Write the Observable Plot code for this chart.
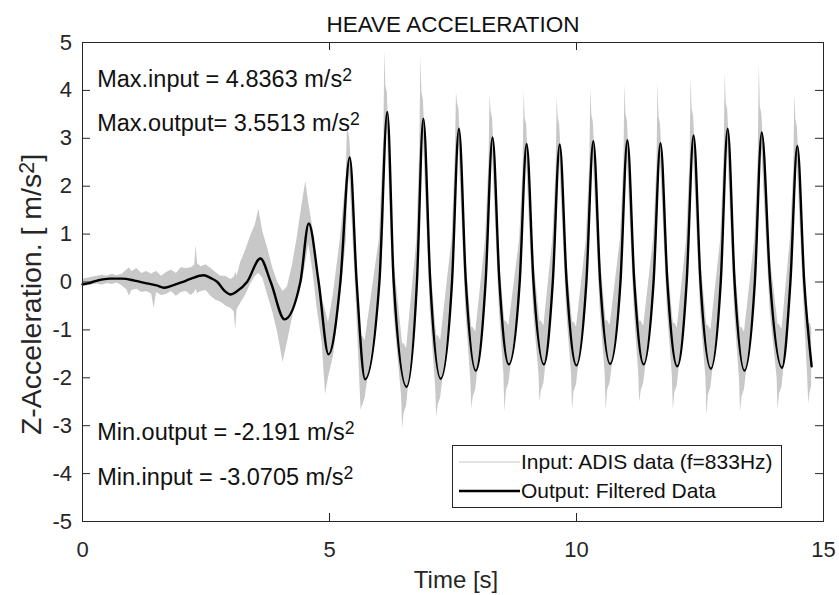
<!DOCTYPE html>
<html>
<head>
<meta charset="utf-8">
<script src="https://cdn.jsdelivr.net/npm/d3@7"></script>
<script src="https://cdn.jsdelivr.net/npm/@observablehq/plot@0.6"></script>
<style>
  html, body { margin: 0; padding: 0; background: #fff; }
  svg { display: block; }
</style>
</head>
<body>
<div id="chart"></div>
<script>
// ---------- data ----------
// Filtered output (key points: extrema and zero crossings), time in s, value in m/s^2
const outT = [0.00,0.10,0.30,0.55,0.80,1.05,1.30,1.50,1.65,1.80,2.00,2.20,2.45,2.60,2.73,2.87,3.00,3.12,3.33,3.60,3.81,4.09,4.41,4.58,4.78,4.98,
  5.22,5.41,5.55,5.72, 6.01,6.17,6.30,6.56, 6.77,6.90,7.04,7.25, 7.48,7.62,7.76,7.96, 8.16,8.30,8.44,8.63,
  8.85,8.99,9.13,9.34, 9.52,9.66,9.80,10.00, 10.20,10.34,10.48,10.68, 10.89,11.03,11.17,11.36,
  11.56,11.70,11.84,12.04, 12.23,12.37,12.51,12.72, 12.92,13.06,13.20,13.40, 13.61,13.75,13.92,14.16,
  14.33,14.47,14.61,14.76];
const outV = [-0.05,-0.03,0.03,0.07,0.07,0.03,-0.03,-0.07,-0.12,-0.08,-0.01,0.07,0.14,0.08,0.00,-0.18,-0.26,-0.20,0.00,0.49,0.00,-0.78,0.00,1.22,0.00,-1.51,
  0.00,2.60,0.00,-2.03, 0.00,3.55,0.00,-2.19, 0.00,3.41,0.00,-2.02, 0.00,3.20,0.00,-1.85, 0.00,3.02,0.00,-1.72,
  0.00,2.88,0.00,-1.72, 0.00,2.87,0.00,-1.74, 0.00,2.94,0.00,-1.71, 0.00,2.96,0.00,-1.72,
  0.00,2.90,0.00,-1.76, 0.00,3.06,0.00,-1.81, 0.00,3.20,0.00,-1.85, 0.00,3.12,0.00,-1.79,
  0.00,2.84,0.00,-1.76];

// Raw input (833 Hz) drawn as its visible envelope: time, lower edge, upper edge
const inT = [0.00,0.10,0.20,0.30,0.40,0.50,0.60,0.70,0.80,0.90,0.95,1.00,1.10,1.20,1.30,1.40,1.45,1.50,1.60,1.70,1.80,1.90,
  2.00,2.10,2.20,2.27,2.30,2.33,2.40,2.50,2.60,2.70,2.80,2.90,3.00,3.07,3.10,3.13,3.20,3.30,3.40,3.50,3.57,3.65,3.75,3.85,3.95,
  4.06,4.15,4.25,4.35,4.45,4.52,4.58,4.66,4.75,4.85,4.92,4.98,5.08,
  5.22,5.34,5.36,5.38,5.41,5.55,5.62,5.64,5.67,5.72,
  6.01,6.10,6.12,6.14,6.17,6.30,6.46,6.48,6.51,6.56,
  6.77,6.83,6.85,6.87,6.90,7.04,7.15,7.17,7.20,7.25,
  7.48,7.55,7.57,7.59,7.62,7.76,7.86,7.88,7.91,7.96,
  8.16,8.23,8.25,8.27,8.30,8.44,8.53,8.55,8.58,8.63,
  8.85,8.92,8.94,8.96,8.99,9.13,9.24,9.26,9.29,9.34,
  9.52,9.59,9.61,9.63,9.66,9.80,9.90,9.92,9.95,10.00,
  10.20,10.27,10.29,10.31,10.34,10.48,10.58,10.60,10.63,10.68,
  10.89,10.96,10.98,11.00,11.03,11.17,11.26,11.28,11.31,11.36,
  11.56,11.63,11.65,11.67,11.70,11.84,11.94,11.96,11.99,12.04,
  12.23,12.30,12.32,12.34,12.37,12.51,12.62,12.64,12.67,12.72,
  12.92,12.99,13.01,13.03,13.06,13.20,13.30,13.32,13.35,13.40,
  13.61,13.68,13.70,13.72,13.75,13.92,14.06,14.08,14.11,14.16,
  14.33,14.40,14.42,14.44,14.47,14.61,14.68,14.70,14.73,14.76];
const inLo = [-0.10,-0.08,-0.06,-0.04,-0.07,-0.03,-0.05,-0.02,-0.08,-0.16,-0.30,-0.18,-0.15,-0.22,-0.20,-0.25,-0.55,-0.22,-0.28,-0.26,-0.20,-0.30,
  -0.22,-0.20,-0.28,-0.22,-0.15,-0.24,-0.20,-0.18,-0.30,-0.38,-0.42,-0.50,-0.55,-0.62,-1.00,-0.58,-0.45,-0.28,-0.05,0.12,0.18,0.08,-0.28,-0.62,-1.05,
  -1.68,-1.25,-0.75,-0.25,0.00,0.40,0.80,0.25,-0.55,-1.25,-2.35,-2.00,-1.55,
  -0.35,0.86,1.50,2.00,2.25,-0.60,-2.23,-2.68,-2.58,-2.43,
  -0.35,1.17,2.45,2.95,3.20,-0.60,-2.39,-3.07,-2.74,-2.59,
  -0.35,1.13,2.31,2.81,3.06,-0.60,-2.22,-2.83,-2.57,-2.42,
  -0.35,1.06,2.10,2.60,2.85,-0.60,-2.05,-2.64,-2.40,-2.25,
  -0.35,1.00,1.92,2.42,2.67,-0.60,-1.92,-2.72,-2.27,-2.12,
  -0.35,0.95,1.78,2.28,2.53,-0.60,-1.92,-2.51,-2.27,-2.12,
  -0.35,0.95,1.77,2.27,2.52,-0.60,-1.94,-2.68,-2.29,-2.14,
  -0.35,0.97,1.84,2.34,2.59,-0.60,-1.91,-2.68,-2.26,-2.11,
  -0.35,0.98,1.86,2.36,2.61,-0.60,-1.92,-2.51,-2.27,-2.12,
  -0.35,0.96,1.80,2.30,2.55,-0.60,-1.96,-2.68,-2.31,-2.16,
  -0.35,1.01,1.96,2.46,2.71,-0.60,-2.01,-2.79,-2.36,-2.21,
  -0.35,1.06,2.10,2.60,2.85,-0.60,-2.05,-2.72,-2.40,-2.25,
  -0.35,1.03,2.02,2.52,2.77,-0.60,-1.99,-2.68,-2.34,-2.19,
  -0.35,0.94,1.74,2.24,2.49,-0.60,-2.00,-2.54,-2.30,-2.16];
const inHi = [0.06,0.08,0.10,0.12,0.14,0.12,0.16,0.13,0.16,0.25,0.30,0.22,0.28,0.18,0.22,0.16,0.20,0.22,0.12,0.20,0.25,0.18,
  0.30,0.28,0.30,0.35,0.76,0.38,0.32,0.36,0.28,0.20,0.12,0.12,0.05,0.10,0.20,0.12,0.40,0.65,0.95,1.20,1.52,1.05,0.70,0.30,0.00,
  -0.20,-0.10,0.35,0.95,1.65,2.10,1.65,1.15,0.35,-0.35,-0.60,-0.85,-0.25,
  0.90,2.21,3.16,3.15,3.00,0.50,-0.93,-1.13,-1.13,-1.23,
  0.90,3.02,4.84,4.10,3.95,0.50,-1.09,-1.29,-1.29,-1.39,
  0.90,2.90,4.73,3.96,3.81,0.50,-0.92,-1.12,-1.12,-1.22,
  0.90,2.72,3.96,3.75,3.60,0.50,-0.75,-0.95,-0.95,-1.05,
  0.90,2.57,3.91,3.57,3.42,0.50,-0.62,-0.82,-0.82,-0.92,
  0.90,2.45,4.00,3.43,3.28,0.50,-0.62,-0.82,-0.82,-0.92,
  0.90,2.44,3.87,3.42,3.27,0.50,-0.64,-0.84,-0.84,-0.94,
  0.90,2.50,4.06,3.49,3.34,0.50,-0.61,-0.81,-0.81,-0.91,
  0.90,2.52,4.14,3.51,3.36,0.50,-0.62,-0.82,-0.82,-0.92,
  0.90,2.47,4.17,3.45,3.30,0.50,-0.66,-0.86,-0.86,-0.96,
  0.90,2.60,4.27,3.61,3.46,0.50,-0.71,-0.91,-0.91,-1.01,
  0.90,2.72,4.37,3.75,3.60,0.50,-0.75,-0.95,-0.95,-1.05,
  0.90,2.65,4.55,3.67,3.52,0.50,-0.69,-0.89,-0.89,-0.99,
  0.90,2.41,3.94,3.39,3.24,0.50,-0.70,-0.90,-0.86,-0.96];

const xTicks = [0, 5, 10, 15];
const yTicks = [-5, -4, -3, -2, -1, 0, 1, 2, 3, 4, 5];
const titleText = "HEAVE ACCELERATION";
const xLabel = "Time [s]";
const yLabel = "Z-Acceleration. [ m/s²]";
const statLabels = ["Max.input = ", "Max.output= ", "Min.output = ", "Min.input = "];
const statValues = ["4.8363", "3.5513", "-2.191", "-3.0705"];
const statUnit = " m/s²";
const legendLabels = ["Input: ADIS data (f=833Hz)", "Output: Filtered Data"];

// ---------- tables built from the arrays ----------
const output = outT.map((t, i) => ({t, v: outV[i]}));
const input = inT.map((t, i) => ({t, lo: inLo[i], hi: inHi[i]}));
const stats = statLabels.map((s, i) => s + statValues[i] + statUnit);

// ---------- layout (pixels) ----------
const W = 839, H = 595;
const mL = 82, mR = 16, mT = 42, mB = 74;
const fw = W - mL - mR, fh = H - mT - mB;
const tick = 8;
const axisCol = "#262626";
const inputCol = "#c8c8c8";
const statDy = [37, 81, 389.7, 434.7];
const font = "'Liberation Sans', Arial, sans-serif";

const svg = Plot.plot({
  width: W, height: H,
  marginLeft: mL, marginRight: mR, marginTop: mT, marginBottom: mB,
  style: {fontFamily: font, color: axisCol, background: "#fff"},
  x: {domain: [0, 15], axis: null},
  y: {domain: [-5, 5], axis: null},
  marks: [
    Plot.areaY(input, {x: "t", y1: "lo", y2: "hi", fill: inputCol, curve: "linear"}),
    Plot.line(output, {x: "t", y: "v", stroke: "#000", strokeWidth: 2.4, curve: "monotone-x"}),
    Plot.frame({stroke: axisCol, strokeWidth: 1}),
    Plot.ruleX(xTicks, {x: d => d, stroke: axisCol, insetTop: fh - tick}),
    Plot.ruleX(xTicks, {x: d => d, stroke: axisCol, insetBottom: fh - tick}),
    Plot.ruleY(yTicks, {y: d => d, stroke: axisCol, insetRight: fw - tick}),
    Plot.ruleY(yTicks, {y: d => d, stroke: axisCol, insetLeft: fw - tick}),
    Plot.text(xTicks, {x: d => d, frameAnchor: "bottom", lineAnchor: "middle", dy: 28.5, text: d => String(d), fontSize: 22, fill: axisCol}),
    Plot.text(yTicks, {y: d => d, frameAnchor: "left", lineAnchor: "middle", dx: -10.5, textAnchor: "end", text: d => String(d), fontSize: 22, fill: axisCol}),
    Plot.text([titleText], {frameAnchor: "top", lineAnchor: "middle", textAnchor: "middle", dy: -17.5, text: d => d, fontSize: 22.5, fill: "#111"}),
    Plot.text([xLabel], {frameAnchor: "bottom", lineAnchor: "middle", textAnchor: "middle", dx: 3, dy: 58.5, text: d => d, fontSize: 24, fill: axisCol}),
    Plot.text([yLabel], {frameAnchor: "left", lineAnchor: "middle", textAnchor: "middle", dx: -51, dy: 12.5, rotate: -90, text: d => d, fontSize: 28.5, fill: axisCol}),
    ...stats.map((s, i) => Plot.text([s], {frameAnchor: "top-left", lineAnchor: "middle", textAnchor: "start", dx: 14.7, dy: statDy[i], text: d => d, fontSize: 23.5, fill: "#111"}))
  ]
});

document.getElementById("chart").appendChild(svg);

// superscript "2" as in the original TeX labels
d3.select(svg).selectAll("text").each(function() {
  const s = this.textContent;
  if (!s.includes("²")) return;
  const fs = parseFloat(getComputedStyle(this).fontSize);
  const parts = s.split("²");
  this.textContent = "";
  const sel = d3.select(this);
  parts.forEach((p, i) => {
    if (i === 0) { sel.append("tspan").text(p); return; }
    sel.append("tspan").attr("font-size", fs * 0.75).attr("dy", -0.24 * fs).text("2");
    if (p) sel.append("tspan").attr("dy", 0.24 * fs).text(p);
  });
});

// legend box (inside the axes, lower right)
const lg = d3.select(svg).append("g").attr("font-family", font).attr("font-size", 21).attr("text-anchor", "start");
lg.append("rect").attr("x", 452.5).attr("y", 445.5).attr("width", 329).attr("height", 62)
  .attr("fill", "#fff").attr("stroke", axisCol).attr("stroke-width", 1);
const rows = [{y: 462, stroke: inputCol, w: 1.2}, {y: 491, stroke: "#000", w: 2.4}];
rows.forEach((r, i) => {
  lg.append("line").attr("x1", 459).attr("x2", 520).attr("y1", r.y).attr("y2", r.y)
    .attr("stroke", r.stroke).attr("stroke-width", r.w);
  lg.append("text").attr("x", 521).attr("y", r.y).attr("dy", "0.35em").attr("text-anchor", "start").attr("fill", "#111").text(legendLabels[i]);
});
</script>
</body>
</html>
